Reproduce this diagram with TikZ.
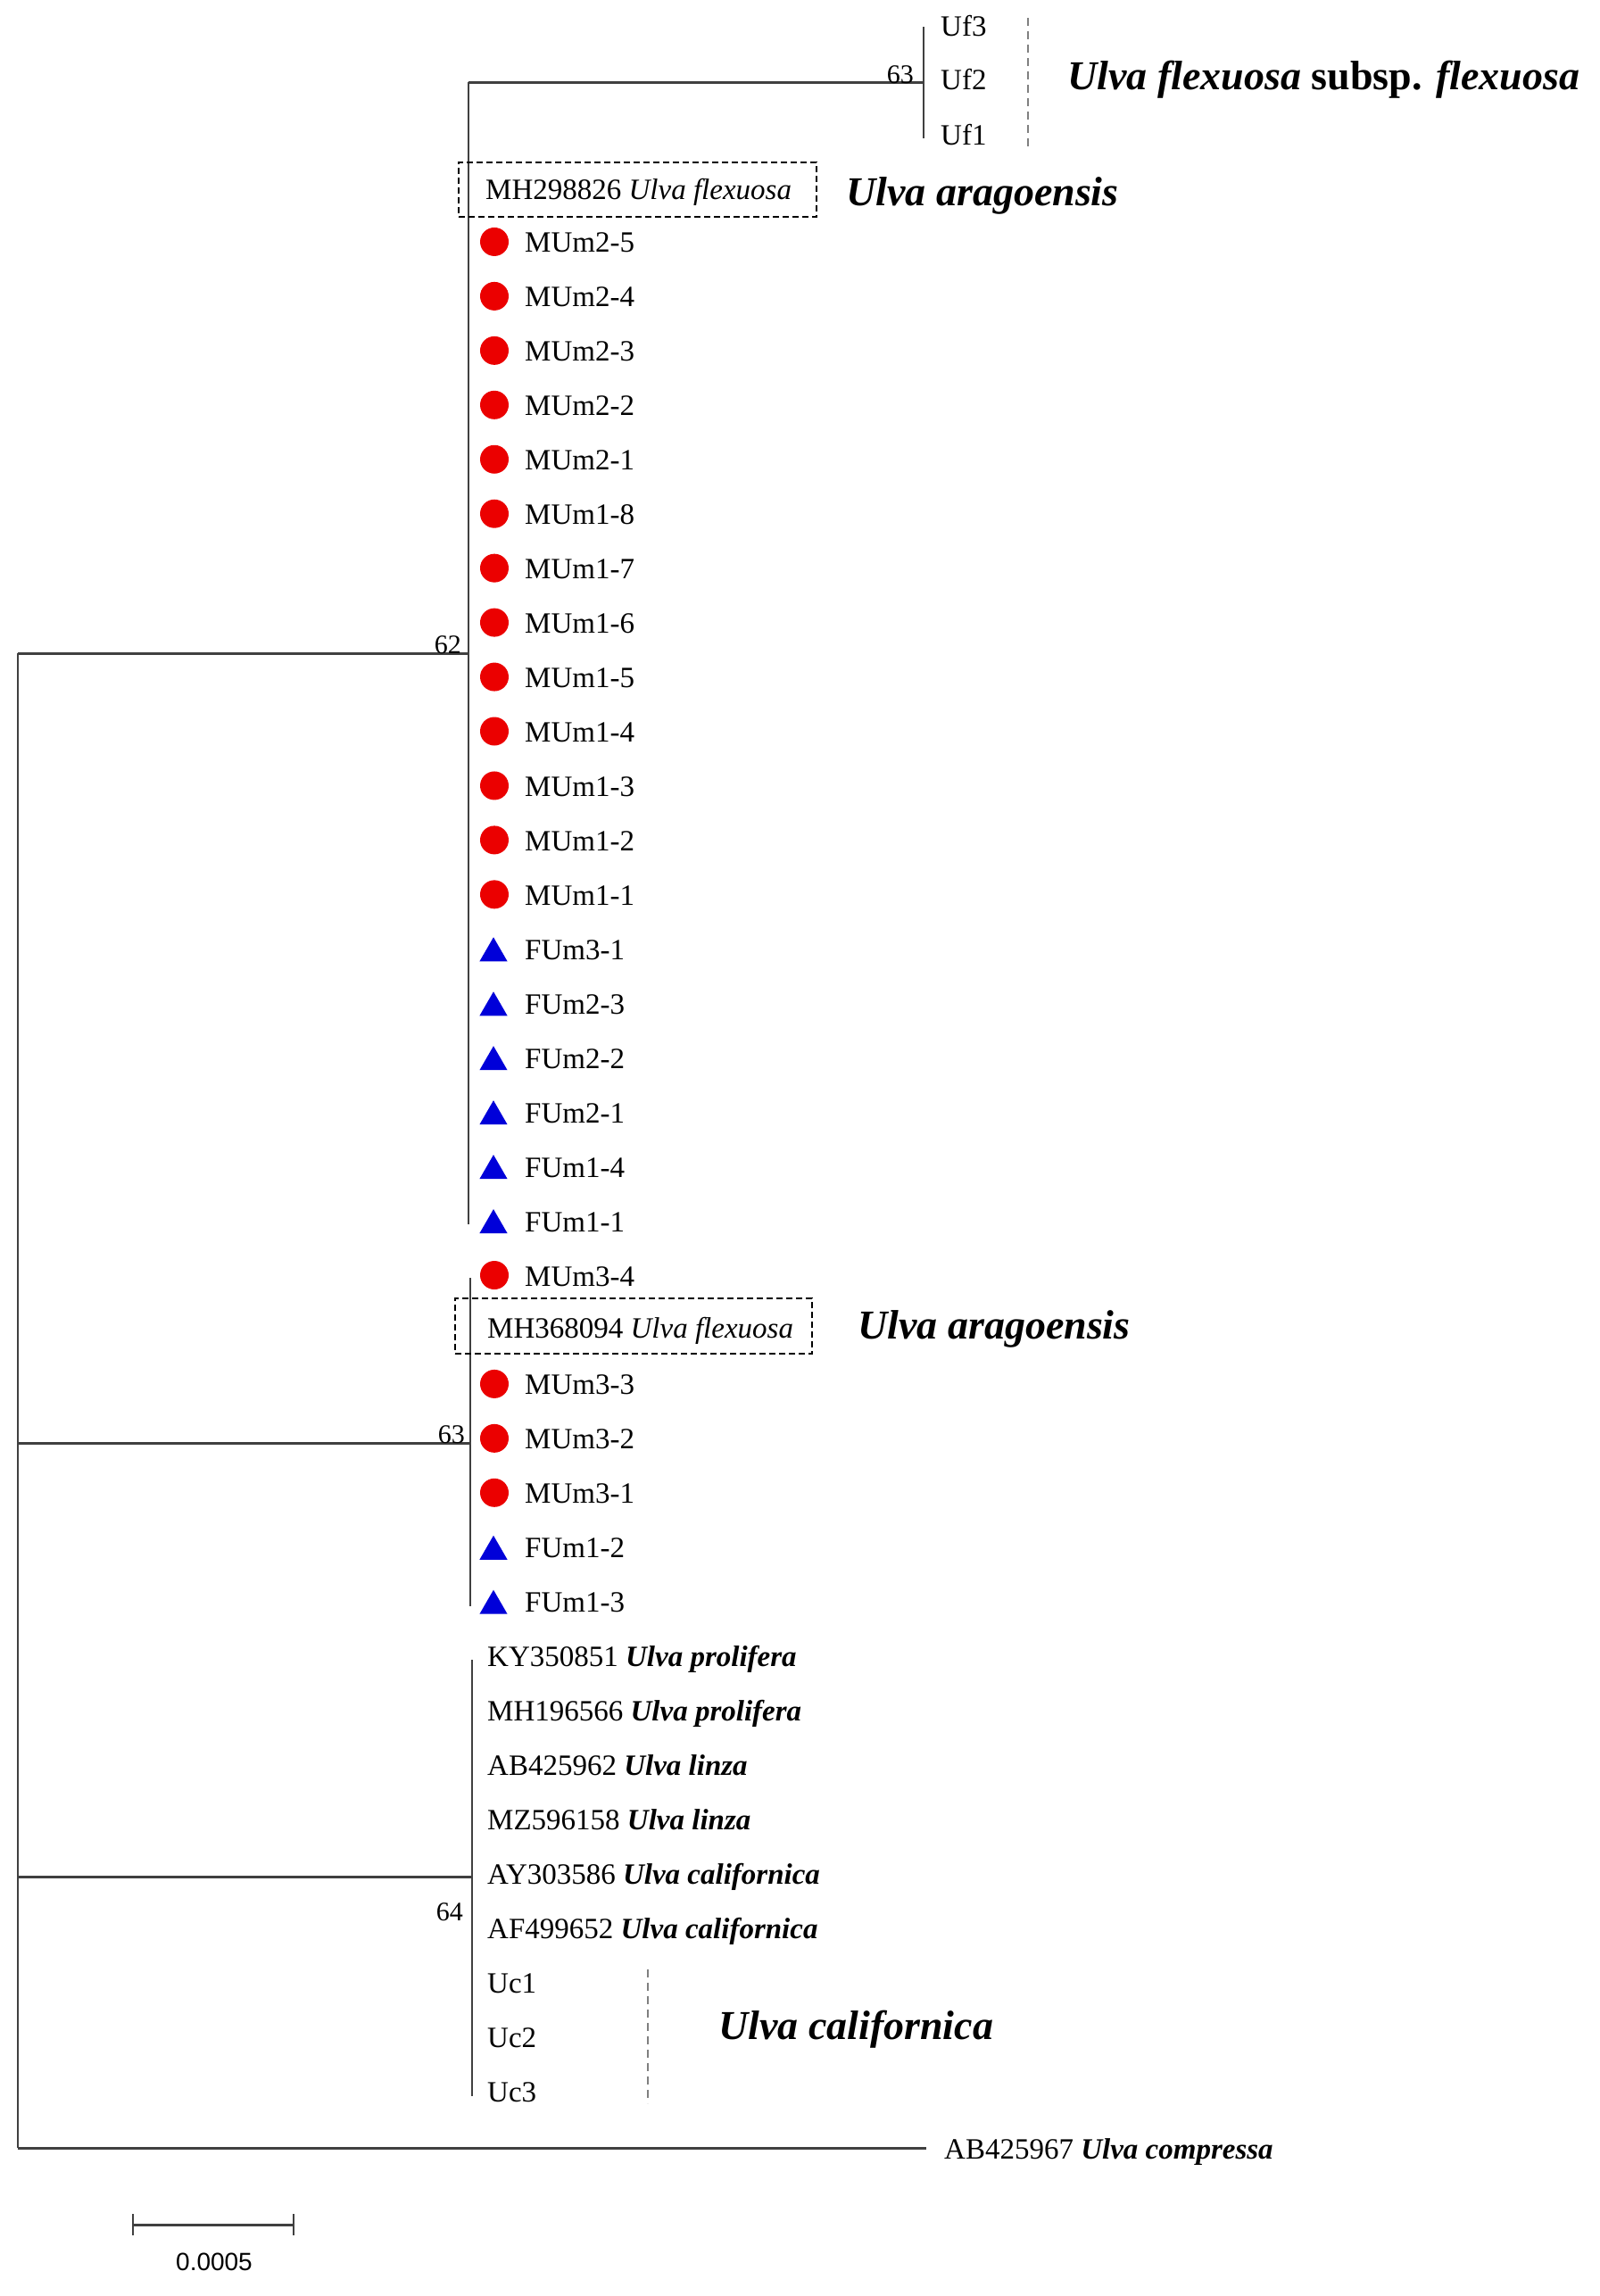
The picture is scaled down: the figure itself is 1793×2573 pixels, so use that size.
\documentclass[tikz,border=0pt]{standalone}
\usepackage{fontspec}
\setmainfont{Liberation Serif}
\newfontfamily\sansf{Liberation Sans}
\usetikzlibrary{shapes.geometric}
\begin{document}
\begin{tikzpicture}[x=1pt,y=-1pt,
 branch/.style={draw=black!75, line width=3pt},
 vbranch/.style={draw=black!75, line width=2.5pt},
 leaf/.style={anchor=west, inner sep=0pt, font=\fontsize{33}{40}\selectfont, text height=22pt, text depth=0pt},
 clade/.style={anchor=base west, inner sep=0pt, font=\fontsize{46}{54}\selectfont\bfseries},
 boot/.style={anchor=base east, inner sep=0pt, font=\fontsize{30}{36}\selectfont},
 redpt/.style={circle, fill=red!92!black, minimum size=32pt, inner sep=0pt},
 bluept/.style={regular polygon, regular polygon sides=3, fill=blue!85!black, minimum size=36pt, inner sep=0pt, yshift=-5pt},
 grpline/.style={draw=black!50, line width=1.8pt, dash pattern=on 9pt off 6pt},
 refbox/.style={draw=black, line width=2.5pt, dash pattern=on 7pt off 4pt, inner sep=0pt}
]
\useasboundingbox (0,0) rectangle (1793,2573);
\fill[white] (0,0) rectangle (1793,2573);

% internal node coordinates
\coordinate (r62) at (20,732);
\coordinate (n62) at (525,732);
\coordinate (n62t) at (525,92);
\coordinate (n62b) at (525,1372);
\coordinate (nUf) at (1035,92);
\coordinate (nUft) at (1035,30);
\coordinate (nUfb) at (1035,155);
\coordinate (r63) at (20,1617);
\coordinate (n63) at (527,1617);
\coordinate (n63t) at (527,1432);
\coordinate (n63b) at (527,1800);
\coordinate (r64) at (20,2103);
\coordinate (n64) at (529,2103);
\coordinate (n64t) at (529,1860);
\coordinate (n64b) at (529,2349);
\coordinate (rC) at (20,2407);
\coordinate (cEnd) at (1038,2407);

% branches
\draw[vbranch] (r62) -- (rC);
\draw[branch] (r62) -- (n62);
\draw[vbranch] (n62t) -- (n62b);
\draw[branch] (n62t) -- (nUf);
\draw[vbranch] (nUft) -- (nUfb);
\draw[branch] (r63) -- (n63);
\draw[vbranch] (n63t) -- (n63b);
\draw[branch] (r64) -- (n64);
\draw[vbranch] (n64t) -- (n64b);
\draw[branch] (rC) -- (cEnd);

% bootstrap values
\node[boot] (b63a) at (1024,93) {63};
\node[boot] (b62) at (517,732) {62};
\node[boot] (b63b) at (521,1617) {63};
\node[boot] (b64) at (519,2152) {64};

% Uf leaves
\node[leaf] (uf3) at (1054,29) {Uf3};
\node[leaf] (uf2) at (1054,89) {Uf2};
\node[leaf] (uf1) at (1054,151) {Uf1};
\draw[grpline] (1152,20) -- (1152,166);
\node[clade] (cUf) at (1196,100) {\textit{Ulva flexuosa} subsp. \textit{flexuosa}};

% reference boxes
\node[refbox, minimum width=401pt, minimum height=61pt] (box1) at (714.5,212.5) {};
\node[leaf] (mh1) at (544,212) {MH298826 \textit{Ulva flexuosa}};
\node[clade] (cAr1) at (948,230) {\textit{Ulva aragoensis}};
\node[refbox, minimum width=400pt, minimum height=62pt] (box2) at (710,1486) {};
\node[leaf] (mh2) at (546,1488) {MH368094 \textit{Ulva flexuosa}};
\node[clade] (cAr2) at (961,1500) {\textit{Ulva aragoensis}};

% sample leaves
\foreach \k/\lab in {1/MUm2-5,2/MUm2-4,3/MUm2-3,4/MUm2-2,5/MUm2-1,6/MUm1-8,7/MUm1-7,8/MUm1-6,9/MUm1-5,10/MUm1-4,11/MUm1-3,12/MUm1-2,13/MUm1-1,14/FUm3-1,15/FUm2-3,16/FUm2-2,17/FUm2-1,18/FUm1-4,19/FUm1-1,20/MUm3-4,22/MUm3-3,23/MUm3-2,24/MUm3-1,25/FUm1-2,26/FUm1-3}{
  \node[leaf] (leaf\k) at (588,{211+\k*60.95}) {\lab};
}
\foreach \k in {1,...,13,20,22,23,24}{
  \node[redpt] (mk\k) at (554,{210+\k*60.95}) {};
}
\foreach \k in {14,...,19,25,26}{
  \node[bluept] (mk\k) at (553,{210+\k*60.95}) {};
}

% reference sequences
\node[leaf] (ky) at (546,{211+27*60.95}) {KY350851 \textbf{\textit{Ulva prolifera}}};
\node[leaf] (mh3) at (546,{211+28*60.95}) {MH196566 \textbf{\textit{Ulva prolifera}}};
\node[leaf] (ab1) at (546,{211+29*60.95}) {AB425962 \textbf{\textit{Ulva linza}}};
\node[leaf] (mz) at (546,{211+30*60.95}) {MZ596158 \textbf{\textit{Ulva linza}}};
\node[leaf] (ay) at (546,{211+31*60.95}) {AY303586 \textbf{\textit{Ulva californica}}};
\node[leaf] (af) at (546,{211+32*60.95}) {AF499652 \textbf{\textit{Ulva californica}}};
\node[leaf] (uc1) at (546,{211+33*60.95}) {Uc1};
\node[leaf] (uc2) at (546,{211+34*60.95}) {Uc2};
\node[leaf] (uc3) at (546,{211+35*60.95}) {Uc3};
\draw[grpline] (726,2207) -- (726,2357);
\node[clade] (cUc) at (805,2285) {\textit{Ulva californica}};

\node[leaf] (cmp) at (1058,2408) {AB425967 \textbf{\textit{Ulva compressa}}};

% scale bar
\coordinate (sb1) at (149,2493);
\coordinate (sb2) at (329,2493);
\draw[branch] (sb1) -- (sb2);
\draw[draw=black!75, line width=2pt] (149,2481) -- (149,2505) (329,2481) -- (329,2505);
\node[inner sep=0pt, font=\sansf\fontsize{28}{32}\selectfont] (sbl) at (240,2535) {0.0005};
\end{tikzpicture}
\end{document}
